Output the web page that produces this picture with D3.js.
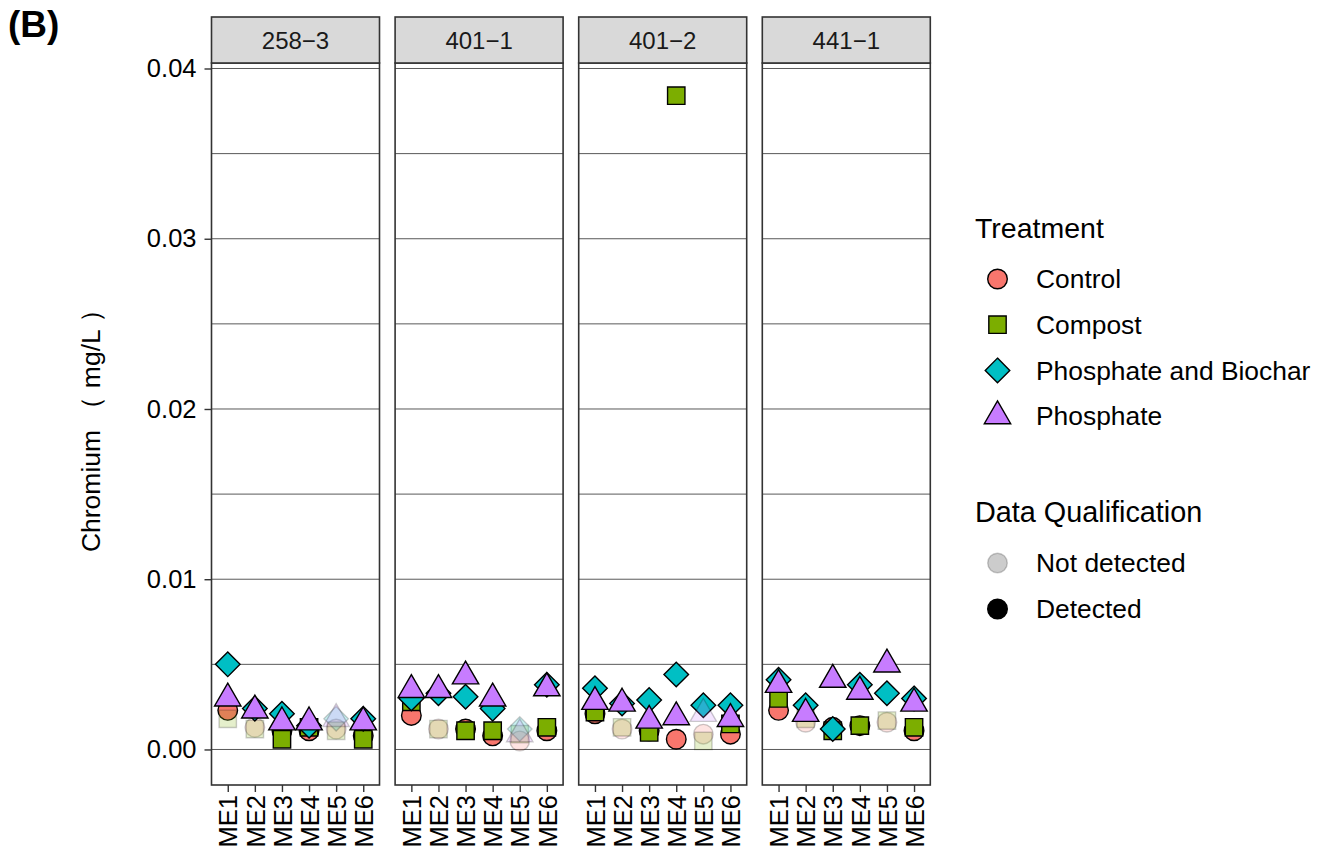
<!DOCTYPE html>
<html>
<head>
<meta charset="utf-8">
<script src="https://cdn.jsdelivr.net/npm/d3@7"></script>
<style>
  body { margin: 0; background: #fff; }
  svg { display: block; }
  text { font-family: "Liberation Sans", Arial, Helvetica, sans-serif; }
</style>
</head>
<body>
<svg id="chart" width="1324" height="851"></svg>
<script>
// ---- data -------------------------------------------------------------
const sites = ["ME1", "ME2", "ME3", "ME4", "ME5", "ME6"];
const panels = ["258\u22123", "401\u22121", "401\u22122", "441\u22121"];
const treatments = ["Control", "Compost", "Phosphate and Biochar", "Phosphate"];
const qualifications = ["Not detected", "Detected"];
const yTicks = [0, 0.01, 0.02, 0.03, 0.04];
const yMinor = [0.005, 0.015, 0.025, 0.035];

// Chromium (mg/L), one row per panel, one value per site
const controlValues = [
  [0.0023, 0.0013, 0.0011, 0.0011, 0.0012, 0.0008],
  [0.0020, 0.0012, 0.0012, 0.0008, 0.0005, 0.0011],
  [0.0021, 0.0012, 0.0011, 0.0006, 0.0009, 0.0009],
  [0.0023, 0.0016, 0.0013, 0.0014, 0.0016, 0.0011]
];
const compostValues = [
  [0.0018, 0.0012, 0.0006, 0.0013, 0.0011, 0.0006],
  [0.0028, 0.0012, 0.0011, 0.0011, 0.0009, 0.0013],
  [0.0022, 0.0013, 0.0010, 0.0384, 0.0005, 0.0015],
  [0.0030, 0.0018, 0.0011, 0.0014, 0.0017, 0.0013]
];
const biocharValues = [
  [0.0050, 0.0024, 0.0021, 0.0014, 0.0018, 0.0018],
  [0.0030, 0.0033, 0.0031, 0.0024, 0.0012, 0.0038],
  [0.0036, 0.0027, 0.0029, 0.0044, 0.0026, 0.0026],
  [0.0041, 0.0026, 0.0012, 0.0038, 0.0033, 0.0030]
];
const phosphateValues = [
  [0.0030, 0.0023, 0.0016, 0.0016, 0.0018, 0.0016],
  [0.0035, 0.0035, 0.0043, 0.0030, 0.0009, 0.0036],
  [0.0028, 0.0027, 0.0017, 0.0019, 0.0021, 0.0018],
  [0.0038, 0.0021, 0.0041, 0.0034, 0.0050, 0.0027]
];

// 1 = detected, 0 = not detected
const controlDetected = [
  [1, 0, 1, 1, 0, 1],
  [1, 0, 1, 1, 0, 1],
  [1, 0, 1, 1, 0, 1],
  [1, 0, 1, 1, 0, 1]
];
const compostDetected = [
  [0, 0, 1, 1, 0, 1],
  [1, 0, 1, 1, 0, 1],
  [1, 0, 1, 1, 0, 1],
  [1, 0, 1, 1, 0, 1]
];
const biocharDetected = [
  [1, 1, 1, 1, 0, 1],
  [1, 1, 1, 1, 0, 1],
  [1, 1, 1, 1, 1, 1],
  [1, 1, 1, 1, 1, 1]
];
const phosphateDetected = [
  [1, 1, 1, 1, 0, 1],
  [1, 1, 1, 1, 0, 1],
  [1, 1, 1, 1, 0, 1],
  [1, 1, 1, 1, 1, 1]
];

const seriesValues = [controlValues, compostValues, biocharValues, phosphateValues];
const seriesDetected = [controlDetected, compostDetected, biocharDetected, phosphateDetected];

// long-format rows, drawn in treatment order
const rows = [];
treatments.forEach((t, ti) => {
  panels.forEach((p, pi) => {
    sites.forEach((s, si) => {
      rows.push({
        treatment: t, panel: p, site: s,
        value: seriesValues[ti][pi][si],
        detected: seriesDetected[ti][pi][si] === 1
      });
    });
  });
});

// ---- layout -----------------------------------------------------------
const svg = d3.select("#chart");
const panelLeft0 = 211.5, panelStep = 183.6, panelW = 168;
const plotTop = 63, plotBottom = 785, stripTop = 17;
const darkLine = "#333333";
const gridLine = "#222222";

const color = d3.scaleOrdinal().domain(treatments)
  .range(["#F8766D", "#7CAE00", "#00BFC4", "#C77CFF"]);
const shapeOf = d3.scaleOrdinal().domain(treatments)
  .range(["circle", "square", "diamond", "triangle"]);
const alphaOf = d3.scaleOrdinal().domain(qualifications).range([0.2, 1]);

const y = d3.scaleLinear().domain([-0.002087, 0.040323]).range([plotBottom, plotTop]);
const panelX = d3.scaleBand().domain(panels)
  .range([panelLeft0, panelLeft0 + panelStep * 3 + panelW])
  .paddingInner(1 - panelW / panelStep).paddingOuter(0);

// R-style filled point symbols (pch 21-24), base radius in px
const R0 = 9.8;
function symbolPath(shape) {
  if (shape === "circle") {
    const p = d3.path();
    p.moveTo(R0, 0);
    p.arc(0, 0, R0, 0, 2 * Math.PI);
    p.closePath();
    return p.toString();
  }
  if (shape === "square") {
    const s = 0.88623 * R0;
    return `M${-s},${-s}H${s}V${s}H${-s}Z`;
  }
  if (shape === "diamond") {
    const d = 1.25331 * R0;
    return `M0,${-d}L${d},0L0,${d}L${-d},0Z`;
  }
  const r = 1.55512 * R0, hw = 1.34677 * R0;
  return `M0,${-r}L${hw},${r / 2}L${-hw},${r / 2}Z`;
}

// ---- panels -----------------------------------------------------------
panels.forEach((p) => {
  const left = panelX(p);
  const w = panelX.bandwidth();
  const g = svg.append("g").attr("class", "panel");
  const x = d3.scalePoint().domain(sites).range([left, left + w]).padding(0.6);

  // grid lines (minor + major)
  g.selectAll("line.grid").data(yMinor.concat(yTicks)).join("line")
    .attr("class", "grid")
    .attr("x1", left).attr("x2", left + w)
    .attr("y1", d => y(d)).attr("y2", d => y(d))
    .attr("stroke", gridLine).attr("stroke-width", 0.75);

  // points
  g.selectAll("path.pt").data(rows.filter(r => r.panel === p)).join("path")
    .attr("class", "pt")
    .attr("transform", d => `translate(${x(d.site)},${y(d.value)})`)
    .attr("d", d => symbolPath(shapeOf(d.treatment)))
    .attr("fill", d => color(d.treatment))
    .attr("stroke", "#000")
    .attr("stroke-width", 1.4)
    .attr("fill-opacity", d => alphaOf(d.detected ? "Detected" : "Not detected"))
    .attr("stroke-opacity", d => alphaOf(d.detected ? "Detected" : "Not detected"));

  // panel border
  g.append("rect")
    .attr("x", left).attr("y", plotTop).attr("width", w).attr("height", plotBottom - plotTop)
    .attr("fill", "none").attr("stroke", darkLine).attr("stroke-width", 1.6);

  // strip
  g.append("rect")
    .attr("x", left).attr("y", stripTop).attr("width", w).attr("height", plotTop - stripTop)
    .attr("fill", "#D9D9D9").attr("stroke", darkLine).attr("stroke-width", 1.6);
  g.append("text")
    .attr("x", left + w / 2).attr("y", (stripTop + plotTop) / 2)
    .attr("text-anchor", "middle").attr("dominant-baseline", "central")
    .attr("font-size", 24).attr("fill", "#1A1A1A")
    .text(p);

  // x axis
  const xa = g.append("g").attr("transform", `translate(0,${plotBottom})`)
    .call(d3.axisBottom(x).tickSize(7).tickPadding(3));
  xa.select(".domain").remove();
  xa.selectAll(".tick line").attr("stroke", darkLine).attr("stroke-width", 1.4);
  xa.selectAll(".tick text")
    .attr("font-size", 25.5).attr("fill", "#000")
    .attr("text-anchor", "end")
    .attr("transform", "rotate(-90)")
    .attr("x", -10).attr("y", 0).attr("dy", "0.36em");
});

// ---- y axis -------------------------------------------------------------
const ya = svg.append("g").attr("transform", `translate(${panelLeft0},0)`)
  .call(d3.axisLeft(y).tickValues(yTicks).tickFormat(d3.format(".2f")).tickSize(7).tickPadding(8));
ya.select(".domain").remove();
ya.selectAll(".tick line").attr("stroke", darkLine).attr("stroke-width", 1.4);
ya.selectAll(".tick text").attr("font-size", 25.5).attr("fill", "#000")
  .attr("font-family", "\"Liberation Sans\", Arial, sans-serif");

svg.append("text")
  .attr("transform", `translate(100,${(plotTop + plotBottom) / 2}) rotate(-90)`)
  .attr("text-anchor", "middle")
  .attr("font-size", 26.5).attr("fill", "#000")
  .text("Chromium （ mg/L ）");

// panel tag
svg.append("text")
  .attr("x", 8).attr("y", 37)
  .attr("font-size", 37).attr("font-weight", "bold").attr("fill", "#000")
  .text("(B)");

// ---- legends -------------------------------------------------------------
const legX = 975, keyX = 997.5, labelX = 1036;
const leg = svg.append("g").attr("class", "legend");

leg.append("text").attr("x", legX).attr("y", 238)
  .attr("font-size", 28.5).attr("fill", "#000").text("Treatment");
const tItems = leg.selectAll("g.titem").data(treatments).join("g")
  .attr("class", "titem")
  .attr("transform", (d, i) => `translate(0,${279 + i * 45.7})`);
tItems.append("path")
  .attr("transform", `translate(${keyX},0)`)
  .attr("d", d => symbolPath(shapeOf(d)))
  .attr("fill", d => color(d)).attr("stroke", "#000").attr("stroke-width", 1.4);
tItems.append("text")
  .attr("x", labelX).attr("y", 0).attr("dy", "0.35em")
  .attr("font-size", 26.4).attr("fill", "#000").text(d => d);

leg.append("text").attr("x", legX).attr("y", 522)
  .attr("font-size", 28.8).attr("fill", "#000").text("Data Qualification");
const qItems = leg.selectAll("g.qitem").data(qualifications).join("g")
  .attr("class", "qitem")
  .attr("transform", (d, i) => `translate(0,${563 + i * 46})`);
qItems.append("path")
  .attr("transform", `translate(${keyX},0)`)
  .attr("d", symbolPath("circle"))
  .attr("fill", "#000").attr("fill-opacity", d => alphaOf(d))
  .attr("stroke", "#000").attr("stroke-opacity", d => alphaOf(d)).attr("stroke-width", 1.4);
qItems.append("text")
  .attr("x", labelX).attr("y", 0).attr("dy", "0.35em")
  .attr("font-size", 26.4).attr("fill", "#000").text(d => d);
</script>
</body>
</html>
